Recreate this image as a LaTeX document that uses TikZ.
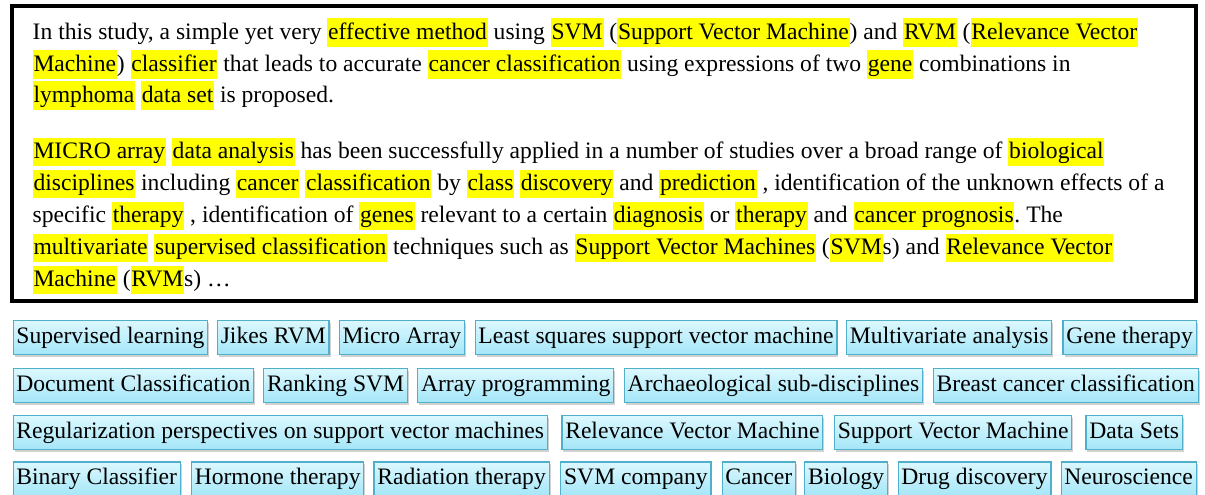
\documentclass[tikz,border=0pt]{standalone}
\usepackage{fontspec}
\setmainfont{Liberation Serif}
\usetikzlibrary{shadows,positioning}
\definecolor{hly}{RGB}{255,255,0}
\definecolor{tagedge}{RGB}{80,176,204}
\definecolor{tagtop}{RGB}{220,248,254}
\definecolor{tagbot}{RGB}{164,230,248}
% yellow marker behind a word or phrase
\newcommand\hlt[1]{{\fboxsep=0pt\colorbox{hly}{\kern0.8pt\rule[-7.5pt]{0pt}{28.5pt}#1\kern0.8pt}}}

\begin{document}
\begin{tikzpicture}[x=1pt,y=-1pt,
  txt/.style={anchor=base west, inner sep=0pt, font=\frenchspacing\fontsize{23.6}{30}\selectfont},
  tag/.style={draw=tagedge, line width=1.2pt, top color=tagtop, bottom color=tagbot,
    minimum height=34pt, inner ysep=0pt, inner xsep=3.3pt, text height=17pt, text depth=6pt,
    font=\fontsize{23.6}{28}\selectfont,
    drop shadow={shadow xshift=1.5pt, shadow yshift=-2pt, opacity=0.3, fill=black!60}}]
\useasboundingbox (0,0) rectangle (1205,495);

% abstract frame
\node[draw, line width=3.5pt, minimum width=1184pt, minimum height=295pt, inner sep=0pt] (frame) at (604,153.5) {};

% abstract text, one node per line
\node[txt] (l1) at (32.5,39.5) {In this study, a simple yet very \hlt{effective method} using \hlt{SVM} (\hlt{Support Vector Machine}) and \hlt{RVM} (\hlt{Relevance Vector}};
\node[txt] (l2) at (32.5,71) {\hlt{Machine}) \hlt{classifier} that leads to accurate \hlt{cancer classification} using expressions of two \hlt{gene} combinations in};
\node[txt] (l3) at (32.5,102.5) {\hlt{lymphoma} \hlt{data set} is proposed.};
\node[txt] (l4) at (32.5,158.5) {\hlt{MICRO array} \hlt{data analysis} has been successfully applied in a number of studies over a broad range of \hlt{biological}};
\node[txt] (l5) at (32.5,190.5) {\hlt{disciplines} including \hlt{cancer} \hlt{classification} by \hlt{class} \hlt{discovery} and \hlt{prediction} , identification of the unknown effects of a};
\node[txt] (l6) at (32.5,222.5) {specific \hlt{therapy} , identification of \hlt{genes} relevant to a certain \hlt{diagnosis} or \hlt{therapy} and \hlt{cancer prognosis}. The};
\node[txt] (l7) at (32.5,254.5) {\hlt{multivariate} \hlt{supervised classification} techniques such as \hlt{Support Vector Machines} (\hlt{SVM}s) and \hlt{Relevance Vector}};
\node[txt] (l8) at (32.5,286.5) {\hlt{Machine} (\hlt{RVM}s) …};

% keyword tags, row by row
\node[tag, anchor=west] (t11) at (12.5,337.5) {Supervised learning};
\node[tag, right=8.5pt of t11] (t12) {Jikes RVM};
\node[tag, right=9pt of t12] (t13) {Micro Array};
\node[tag, right=9.5pt of t13] (t14) {Least squares support vector machine};
\node[tag, right=8.5pt of t14] (t15) {Multivariate analysis};
\node[tag, right=10pt of t15] (t16) {Gene therapy};

\node[tag, anchor=west] (t21) at (12.5,385.5) {Document Classification};
\node[tag, right=9pt of t21] (t22) {Ranking SVM};
\node[tag, right=9pt of t22] (t23) {Array programming};
\node[tag, right=9.5pt of t23] (t24) {Archaeological sub-disciplines};
\node[tag, right=9.5pt of t24] (t25) {Breast cancer classification};

\node[tag, anchor=west] (t31) at (12.5,432.7) {Regularization perspectives on support vector machines};
\node[tag, right=13.5pt of t31] (t32) {Relevance Vector Machine};
\node[tag, right=10.5pt of t32] (t33) {Support Vector Machine};
\node[tag, right=13pt of t33] (t34) {Data Sets};

\node[tag, anchor=west] (t41) at (12.5,479) {Binary Classifier};
\node[tag, right=10pt of t41] (t42) {Hormone therapy};
\node[tag, right=9pt of t42] (t43) {Radiation therapy};
\node[tag, right=10.5pt of t43] (t44) {SVM company};
\node[tag, right=10pt of t44] (t45) {Cancer};
\node[tag, right=8pt of t45] (t46) {Biology};
\node[tag, right=9.5pt of t46] (t47) {Drug discovery};
\node[tag, right=9pt of t47] (t48) {Neuroscience};
\end{tikzpicture}
\end{document}
